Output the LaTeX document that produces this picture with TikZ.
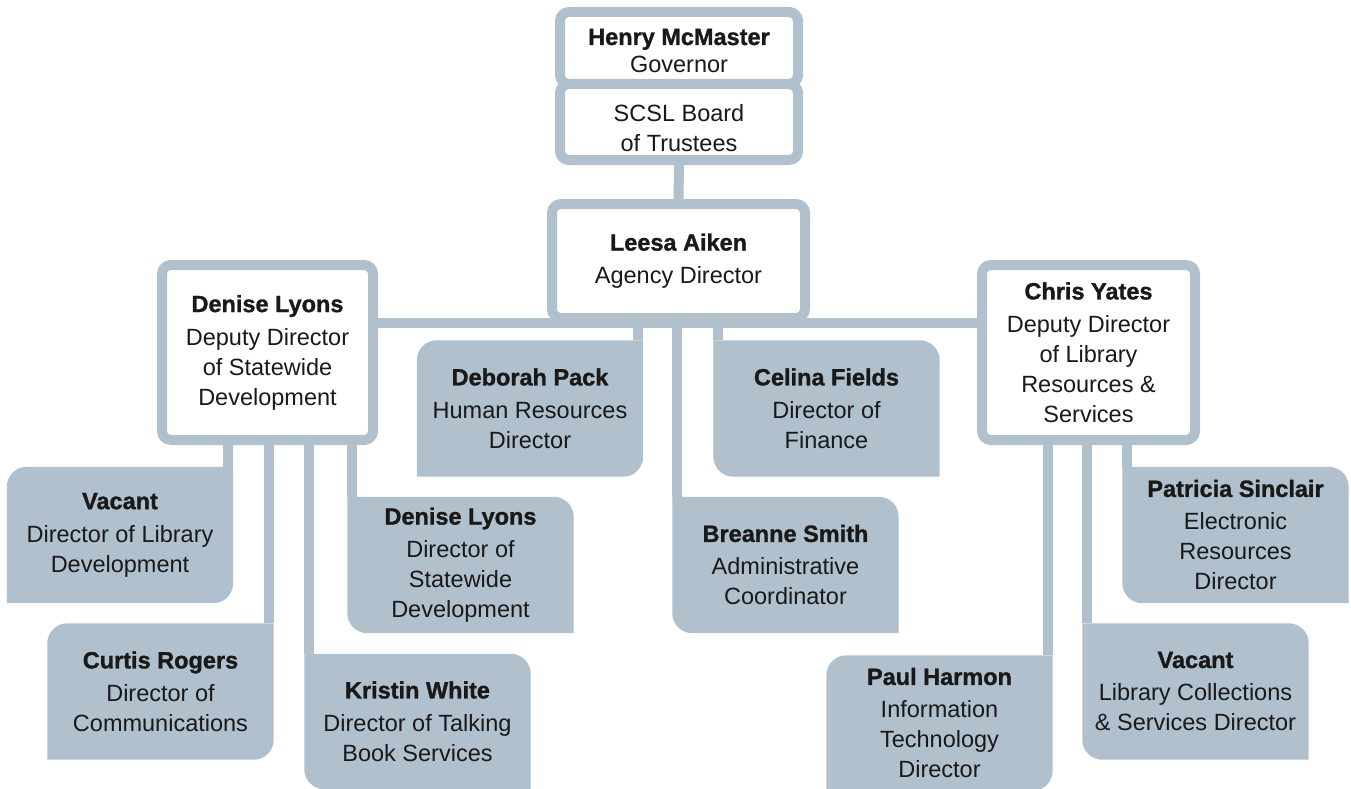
\documentclass[tikz,border=0pt]{standalone}
\usepackage{fontspec}
\setmainfont{Liberation Sans}
\newfontfamily\heavyfont[FakeBold=1.2]{Liberation Sans Bold}
\usetikzlibrary{backgrounds}
\definecolor{bc}{RGB}{177,192,205}
\definecolor{tc}{RGB}{25,25,25}
\tikzset{
  txt/.style={font=\fontsize{23.5}{30}\selectfont, text=tc, align=center, inner sep=0pt},
  wbox/.style={txt, draw=bc, line width=10pt, fill=white, rounded corners=9pt},
  fbox/.style={txt, minimum width=226pt, minimum height=136pt},
  conn/.style={draw=bc, line width=10pt},
  leaf/.style={fill=bc},
}
\newcommand{\nm}[1]{{\heavyfont #1}\\[3pt]}
% filled box, connector on its right: top-left and bottom-right rounded
\newcommand{\leafR}[1]{\fill[leaf] ([yshift=-20pt]#1.north west) arc[start angle=180,end angle=90,radius=20pt] -- (#1.north east) -- ([yshift=20pt]#1.south east) arc[start angle=0,end angle=-90,radius=20pt] -- (#1.south west) -- cycle;}
% filled box, connector on its left: top-right and bottom-left rounded
\newcommand{\leafL}[1]{\fill[leaf] (#1.north west) -- ([xshift=-20pt]#1.north east) arc[start angle=90,end angle=0,radius=20pt] -- (#1.south east) -- ([xshift=20pt]#1.south west) arc[start angle=270,end angle=180,radius=20pt] -- cycle;}
\begin{document}
\begin{tikzpicture}[x=1pt,y=-1pt]
\useasboundingbox (0,0) rectangle (1351,789);

% white boxes
\node[wbox, minimum width=238pt, minimum height=76pt] (board) at (679,122) {\raisebox{-8pt}[\height][\depth]{\begin{tabular}{@{}c@{}}SCSL Board\\of Trustees\end{tabular}}};
\node[wbox, minimum width=238pt, minimum height=72pt] (henry) at (679,48) {\raisebox{-5pt}[\height][\depth]{\begin{tabular}{@{}c@{}}{\heavyfont Henry McMaster}\\[-2pt]Governor\end{tabular}}};
\node[wbox, minimum width=253pt, minimum height=114pt] (leesa) at (678.5,261) {\nm{Leesa Aiken}Agency Director};
\node[wbox, minimum width=211pt, minimum height=175pt] (deniseD) at (267.5,352.5) {\nm{Denise Lyons}Deputy Director\\of Statewide\\Development};
\node[wbox, minimum width=213pt, minimum height=175pt] (chris) at (1088.5,352.5) {\nm{Chris Yates}Deputy Director\\of Library\\Resources \&\\Services};

% filled boxes (text nodes; shapes drawn on the background layer)
\node[fbox] (deborah) at (530,408.5) {\nm{Deborah Pack}Human Resources\\Director};
\node[fbox] (celina) at (826.5,408.5) {\nm{Celina Fields}Director of\\Finance};
\node[fbox] (breanne) at (785.5,565) {\nm{Breanne Smith}Administrative\\Coordinator};
\node[fbox] (vacL) at (120,535) {\nm{Vacant}Director of Library\\Development};
\node[fbox] (curtis) at (160.5,691.5) {\nm{Curtis Rogers}Director of\\Communications};
\node[fbox] (deniseL) at (460.5,565) {\nm{Denise Lyons}Director of\\Statewide\\Development};
\node[fbox, minimum height=135pt] (kristin) at (417.5,721.5) {\nm{Kristin White}Director of Talking\\Book Services};
\node[fbox, minimum height=135pt] (paul) at (939.5,723) {\nm{Paul Harmon}Information\\Technology\\Director};
\node[fbox] (vacR) at (1195.5,691.5) {\nm{Vacant}Library Collections\\\& Services Director};
\node[fbox] (patricia) at (1235.5,535) {\nm{Patricia Sinclair}Electronic\\Resources\\Director};

\begin{pgfonlayer}{background}
  \fill[white] (0,0) rectangle (1351,789);
  \leafR{deborah}\leafR{vacL}\leafR{curtis}\leafR{paul}
  \leafL{celina}\leafL{breanne}\leafL{deniseL}\leafL{kristin}\leafL{vacR}\leafL{patricia}
\end{pgfonlayer}

% connectors
\draw[conn] (board.south) -- (leesa.north);
\draw[conn] (deniseD.east |- leesa.south) -- (chris.west |- leesa.south);
\draw[conn] ([xshift=-5pt]deborah.north east |- leesa.south) -- ([xshift=-5pt]deborah.north east);
\draw[conn] ([xshift=5pt]breanne.north west |- leesa.south) -- ([xshift=5pt]breanne.north west);
\draw[conn] ([xshift=5pt]celina.north west |- leesa.south) -- ([xshift=5pt]celina.north west);

\draw[conn] ([xshift=-5pt]vacL.north east |- deniseD.south) -- ([xshift=-5pt]vacL.north east);
\draw[conn] ([xshift=-5pt]curtis.north east |- deniseD.south) -- ([xshift=-5pt]curtis.north east);
\draw[conn] ([xshift=5pt]kristin.north west |- deniseD.south) -- ([xshift=5pt]kristin.north west);
\draw[conn] ([xshift=5pt]deniseL.north west |- deniseD.south) -- ([xshift=5pt]deniseL.north west);

\draw[conn] ([xshift=-5pt]paul.north east |- chris.south) -- ([xshift=-5pt]paul.north east);
\draw[conn] ([xshift=5pt]vacR.north west |- chris.south) -- ([xshift=5pt]vacR.north west);
\draw[conn] ([xshift=5pt]patricia.north west |- chris.south) -- ([xshift=5pt]patricia.north west);
\end{tikzpicture}
\end{document}
